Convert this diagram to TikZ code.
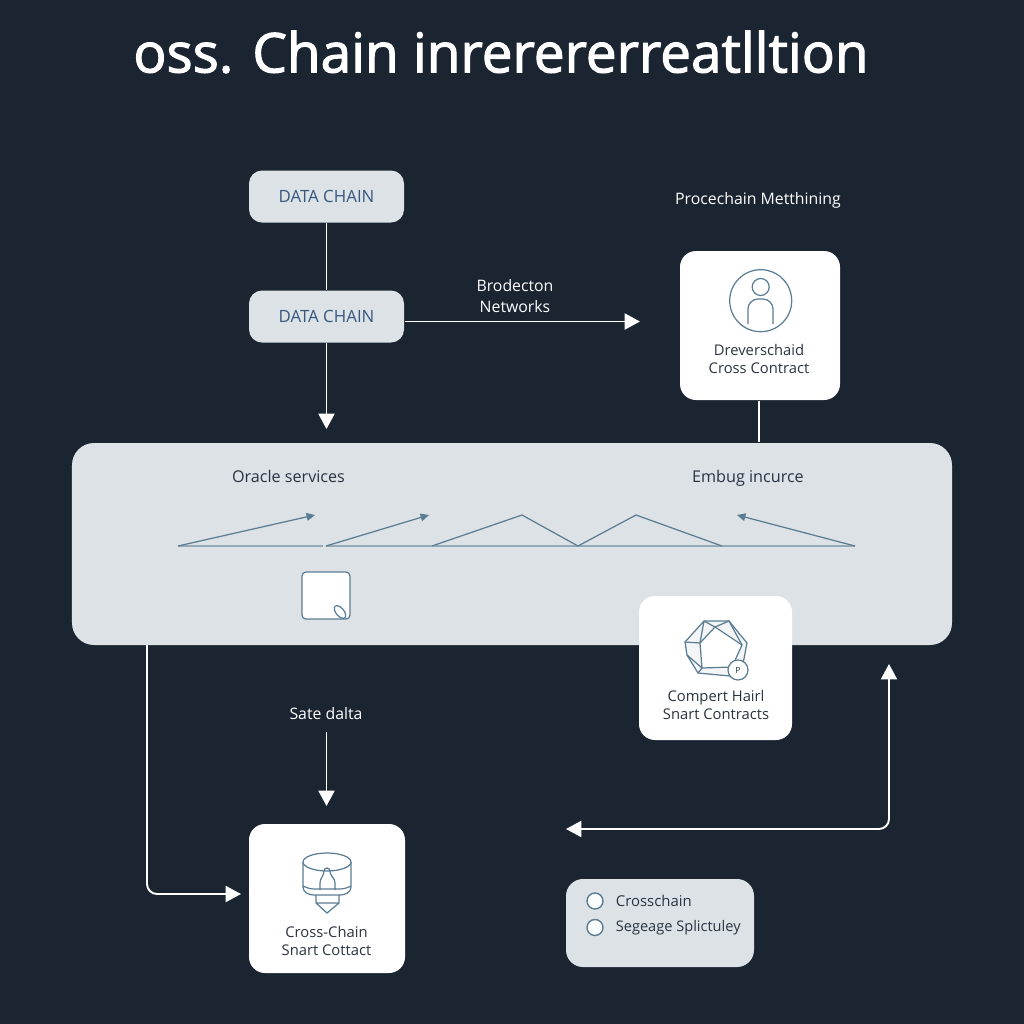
\documentclass[tikz,border=0pt]{standalone}
\usepackage{fontspec}
\setmainfont{Open Sans}
\newfontfamily\titlefont[FakeBold=2]{Open Sans}
\usepackage{tikz}
\usetikzlibrary{arrows.meta,positioning,shapes.geometric}
\definecolor{bgnavy}{HTML}{1B2431}
\definecolor{panelgray}{HTML}{DCE2E6}
\definecolor{chainblue}{HTML}{36587F}
\definecolor{iconblue}{HTML}{5B7D94}
\definecolor{inktext}{HTML}{2A3342}
\newcommand{\fs}[2]{\fontsize{#1}{#2}\selectfont}
\begin{document}
\begin{tikzpicture}[x=1cm,y=-1cm]
\tikzstyle{every path}=[line width=0.5pt];
\tikzstyle{flow}=[draw=white, line width=0.55pt, >={Triangle[length=4.4pt,width=4.6pt]}];
\tikzstyle{chainbox}=[fill=panelgray, rounded corners=0.13cm, minimum width=1.55cm, minimum height=0.52cm, inner sep=0pt, text=chainblue, font=\fs{4.8}{6}];
\tikzstyle{card}=[fill=white, rounded corners=0.16cm, inner sep=0pt];
\tikzstyle{cardtext}=[text=inktext, align=center, inner sep=0pt, font=\fs{4.2}{4.9}];
\tikzstyle{darklabel}=[text=white, align=center, inner sep=0pt, font=\fs{4.5}{6}];
\tikzstyle{paneltext}=[text=inktext, inner sep=0pt, font=\fs{4.6}{6}];
\tikzstyle{icon}=[draw=iconblue, line width=0.35pt];
\tikzstyle{legenddot}=[circle, draw=iconblue, fill=white!90!panelgray, line width=0.4pt, minimum size=0.16cm, inner sep=0pt];
\fill[bgnavy] (0,0) rectangle (10.24,10.24);
\useasboundingbox (0,0) rectangle (10.24,10.24);
\path (5.01,0.52) node (title)[text=white, inner sep=0pt, font=\fs{15.6}{18}\titlefont] {oss. Chain inrerererreatlltion}
(3.265,1.965) node (chaintop)[chainbox] {DATA CHAIN}
(3.265,3.165) node (chainmid)[chainbox] {DATA CHAIN}
(5.15,2.96) node (brlabel)[darklabel] {Brodecton\\Networks}
(7.58,2.0) node (proclabel)[darklabel] {Procechain Metthining}
(7.6,3.255) node (cardperson)[card, minimum width=1.6cm, minimum height=1.49cm] {}
(5.12,5.44) node (panel)[fill=panelgray, rounded corners=0.22cm, minimum width=8.8cm, minimum height=2.02cm, inner sep=0pt] {}
(2.885,4.76) node (oraclelabel)[paneltext] {Oracle services}
(7.48,4.78) node (embuglabel)[paneltext] {Embug incurce}
(7.155,6.68) node (cardgem)[card, minimum width=1.53cm, minimum height=1.44cm] {}
(3.26,7.14) node (satelabel)[darklabel] {Sate dalta}
(3.27,8.985) node (cardchain)[card, minimum width=1.56cm, minimum height=1.49cm] {}
(6.6,9.23) node (legend)[fill=panelgray, rounded corners=0.17cm, minimum width=1.88cm, minimum height=0.88cm, inner sep=0pt] {}
(5.95,9.01) node (doca)[legenddot] {}
(5.95,9.275) node (docb)[legenddot] {}
(6.15,9.01) node (legendone)[paneltext, anchor=west, font=\fs{4.25}{5}] {Crosschain}
(6.15,9.275) node (legendtwo)[paneltext, anchor=west, font=\fs{4.15}{5}] {Segeage Splictuley}
(7.59,3.59) node (persontext)[cardtext] {Dreverschaid\\Cross Contract}
(7.16,7.05) node (gemtext)[cardtext] {Compert Hairl\\Snart Contracts}
(3.265,9.41) node (chaintext)[cardtext] {Cross-Chain\\Snart Cottact};
\coordinate (midtip) at (3.265,4.29);
\coordinate (nettip) at (6.4,3.215);
\coordinate (satestart) at (3.265,7.32);
\coordinate (satetip) at (3.265,8.06);
\coordinate (leftdrop) at (1.47,6.45);
\coordinate (lefttip) at (2.41,8.94);
\coordinate (righttip) at (8.89,6.64);
\coordinate (backtip) at (5.66,8.29);
\draw[flow] (chaintop) -- (chainmid);
\draw[flow, ->] (chainmid) -- (midtip);
\draw[flow, ->] (chainmid.east |- nettip) -- (nettip);
\draw[flow] (cardperson.south -| persontext) -- (panel.north -| persontext);
\draw[flow, ->] (satestart) -- (satetip);
\draw[flow, ->, rounded corners=0.1cm] (leftdrop) |- (lefttip);
\draw[flow, <->, rounded corners=0.1cm] (righttip) |- (backtip);
% rule and slopes across the panel
\draw[icon, draw=iconblue!65, line width=0.4pt] (1.78,5.46) -- (3.23,5.46) (3.26,5.46) -- (8.55,5.46);
\draw[icon, -{Triangle[length=2.4pt,width=2.2pt]}] (1.78,5.46) -- (3.15,5.15);
\draw[icon, -{Triangle[length=2.4pt,width=2.2pt]}] (3.26,5.46) -- (4.29,5.15);
\draw[icon] (4.32,5.46) -- (5.22,5.15) -- (5.78,5.46) -- (6.36,5.15) -- (7.22,5.46);
\draw[icon, -{Triangle[length=2.4pt,width=2.2pt]}] (8.55,5.46) -- (7.37,5.15);
\draw[icon, fill=white, rounded corners=0.04cm] (3.02,5.72) rectangle (3.5,6.19);
\draw[icon, fill=white, rotate around={-50:(3.4,6.12)}] (3.4,6.12) ellipse (0.075cm and 0.04cm);
% person icon
\draw[icon] (7.607,3.007) circle (0.31cm);
\draw[icon] (7.607,2.87) circle (0.085cm);
\draw[icon, rounded corners=0.1cm] (7.48,3.24) -- (7.48,2.99) -- (7.73,2.99) -- (7.73,3.24);
% gem icon
\draw[icon, fill=panelgray!35] (7.04,6.21) -- (7.29,6.21) -- (7.47,6.43) -- (7.43,6.64) -- (7.3,6.76) -- (6.98,6.73) -- (6.87,6.55) -- (6.85,6.42) -- cycle;
\draw[icon, fill=white] (7.0,6.43) -- (7.15,6.27) -- (7.42,6.45) -- (7.32,6.67) -- (7.02,6.68) -- cycle;
\draw[icon] (7.04,6.21) -- (7.0,6.43) -- (6.85,6.42) (7.04,6.21) -- (7.15,6.27) -- (7.29,6.21) -- (7.42,6.45) (7.02,6.68) -- (6.87,6.55) (7.02,6.68) -- (6.98,6.73) (7.32,6.67) -- (7.3,6.76);
\path (7.38,6.7) node (gemseal)[circle, draw=iconblue, fill=white, line width=0.35pt, minimum size=0.2cm, inner sep=0pt, text=inktext, font=\fs{2.4}{3}] {P};
% drum icon
\draw[icon] (3.03,8.62) -- (3.03,8.87) to[out=-90,in=180] (3.14,8.95) -- (3.4,8.95) to[out=0,in=-90] (3.51,8.87) -- (3.51,8.62);
\draw[icon] (3.27,8.62) ellipse (0.24cm and 0.09cm);
\draw[icon] (3.03,8.86) to[out=-25,in=180] (3.15,8.89) -- (3.39,8.89) to[out=0,in=-155] (3.51,8.86);
\draw[icon] (3.16,8.95) -- (3.16,9.03) -- (3.27,9.13) -- (3.39,9.03) -- (3.39,8.95) (3.16,9.03) -- (3.39,9.03);
\draw[icon, rounded corners=0.03cm] (3.2,8.9) -- (3.2,8.8) -- (3.24,8.74) -- (3.24,8.68) -- (3.3,8.68) -- (3.3,8.74) -- (3.35,8.8) -- (3.35,8.9);
\end{tikzpicture}
\end{document}
